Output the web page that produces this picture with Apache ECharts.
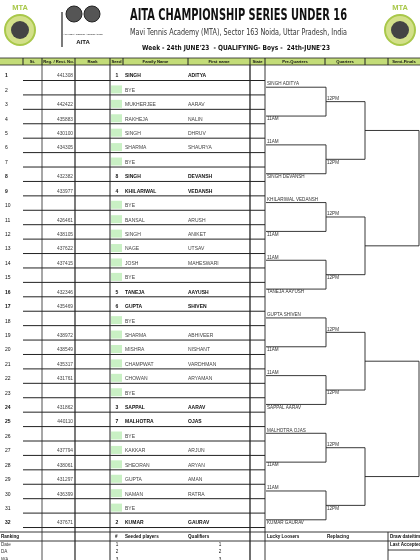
<!DOCTYPE html>
<html><head><meta charset="utf-8">
<script src="https://cdn.jsdelivr.net/npm/echarts@6/dist/echarts.min.js"></script>
<style>html,body{margin:0;padding:0;background:#fff}#c{width:420px;height:560px}</style>
</head><body><div id="c"></div>
<script>
const rows = Array.from({length:32},(_,i)=>i+1);
const regNos = ['441308','','442422','435883','430100','434305','','432382','433977','','426461','438105','437622','437415','','432346','435469','','438972','438549','435317','431761','','431862','440110','','437794','438061','431297','436399','','437671'];
const seeds = ['1','','','','','','','8','4','','','','','','','5','6','','','','','','','3','7','','','','','','','2'];
const familyNames = ['SINGH','BYE','MUKHERJEE','RAKHEJA','SINGH','SHARMA','BYE','SINGH','KHILARIWAL','BYE','BANSAL','SINGH','NAGE','JOSH','BYE','TANEJA','GUPTA','BYE','SHARMA','MISHRA','CHAMPWAT','CHOWAN','BYE','SAPPAL','MALHOTRA','BYE','KAKKAR','SHEORAN','GUPTA','NAMAN','BYE','KUMAR'];
const firstNames = ['ADITYA','','AARAV','NALIN','DHRUV','SHAURYA','','DEVANSH','VEDANSH','','ARUSH','ANIKET','UTSAV','MAHESWARI','','AAYUSH','SHIVEN','','ABHIVEER','NISHANT','VARDHMAN','ARYAMAN','','AARAV','OJAS','','ARJUN','ARYAN','AMAN','RATRA','','GAURAV'];
const preQuarterLabels = ['SINGH ADITYA','11AM','11AM','SINGH DEVANSH','KHILARIWAL VEDANSH','11AM','11AM','TANEJA AAYUSH','GUPTA SHIVEN','11AM','11AM','SAPPAL AARAV','MALHOTRA OJAS','11AM','11AM','KUMAR GAURAV'];
const quarterLabels = ['12PM','12PM','12PM','12PM','12PM','12PM','12PM','12PM'];
const headerLabels = ['St.','Reg. / Rest. No.','Rank','Seed','Family Name','First name','State','Pre-Quarters','Quarters','Semi-Finals'];
const bottomLeftLabels = ['Date','DA','WA'];
const bottomNums = ['1','2','3'];

// layout
const rowY = r => 76 + (r-1)*14.42;
const colEdges = [0,23,42,75,110,123,188,250,265,325,365,388,420];
const hdrCols = [[23,42],[42,75],[75,110],[110,123],[123,188],[188,250],[250,265],[265,325],[325,365],[388,420]];
const segs=[], texts=[], rects=[];
const seg=(x1,y1,x2,y2,w)=>segs.push([x1,y1,x2,y2,w||0.8]);
const txt=(x,y,t,o)=>texts.push([x,y,t,o||{}]);
rects.push([0,58,420,7,'#c3dc78']);
hdrCols.forEach((c,i)=>{ txt((c[0]+c[1])/2,61.5,headerLabels[i],{align:'center',bold:true,size:4.2}); });
colEdges.slice(1,-1).forEach(x=>seg(x,58,x,65,1));
seg(0,58,420,58,0.8); seg(0,65,420,65,0.8);
rows.forEach((r,i)=>{
  const y=rowY(r);
  seg(23,y+4.5,265,y+4.5,1);
  txt(5,y,String(r),{bold:!!seeds[i],size:5});
  txt(73,y,regNos[i],{align:'right',size:4.8,color:'#444'});
  if(seeds[i]) txt(117,y,seeds[i],{align:'center',bold:true,size:5});
  else rects.push([111,y-5,11,8,'#c9f0c4']);
  txt(125,y,familyNames[i],{bold:!!seeds[i],size:5,color:seeds[i]?'#111':'#444'});
  txt(188,y,firstNames[i],{bold:!!seeds[i],size:5,color:seeds[i]?'#111':'#444'});
});
[[42,0.8],[75,1.2],[110,1],[250,1.3],[265,0.9]].forEach(v=>seg(v[0],65,v[0],560,v[1]));
const pqY=[], qY=[], sY=[];
preQuarterLabels.forEach((l,k)=>{
  const y=(rowY(2*k+1)+rowY(2*k+2))/2+4; pqY.push(y);
  seg(266,y,326,y,0.9);
  txt(267,k%2===0?y-3:y+3,l,{size:4.6,color:'#333'});
});
quarterLabels.forEach((l,k)=>{
  const a=pqY[2*k], b=pqY[2*k+1]; seg(326,a,326,b,0.9);
  const y=(a+b)/2; qY.push(y); seg(326,y,365,y,0.9);
  txt(327,k%2===0?y-3:y+3,l,{size:4.6,color:'#333'});
});
for(let k=0;k<4;k++){
  const a=qY[2*k], b=qY[2*k+1]; seg(365,a,365,b,0.9);
  const y=(a+b)/2; sY.push(y); seg(365,y,419,y,0.9);
}
for(let k=0;k<2;k++) seg(419,sY[2*k],419,sY[2*k+1],0.9);
seg(0,532,420,532,0.9); seg(0,541,420,541,0.9);
seg(388,532,388,560,0.9); seg(388,550,420,550,0.9);
txt(1,536.5,'Ranking',{bold:true,size:4.6});
txt(115,536.5,'#',{bold:true,size:4.6});
txt(125,536.5,'Seeded players',{bold:true,size:4.6});
txt(188,536.5,'Qualifiers',{bold:true,size:4.6});
txt(267,536.5,'Lucky Loosers',{bold:true,size:4.6});
txt(327,536.5,'Replacing',{bold:true,size:4.6});
txt(390,536.5,'Draw date/time',{bold:true,size:4.6});
txt(390,545,'Last Accepted',{bold:true,size:4.6});
bottomLeftLabels.forEach((l,i)=>{
  const y=545+i*7.2;
  txt(1,y,l,{size:4.6,color:'#333'});
  txt(117,y,bottomNums[i],{size:4.6,align:'center'});
  txt(220,y,bottomNums[i],{size:4.6,align:'center'});
});
txt(238.5,16,'AITA CHAMPIONSHIP SERIES UNDER 16',{align:'center',bold:true,size:15,fit:217,font:'"DejaVu Sans",sans-serif'});
txt(238.5,33,'Mavi Tennis Academy (MTA), Sector 163 Noida, Uttar Pradesh, India',{align:'center',size:8.5,fit:217,color:'#333',font:'"DejaVu Sans",sans-serif'});
txt(236,48,"Week - 24th JUNE'23  - QUALIFYING- Boys -  24th-JUNE'23",{align:'center',bold:true,size:7,fit:188,font:'"DejaVu Sans",sans-serif'});
const logos=[[20,27],[400,27]];
logos.forEach(p=>{ txt(p[0],8,'MTA',{align:'center',bold:true,size:7.5,color:'#a9c84a'}); });
txt(83,42,'AITA',{align:'center',bold:true,size:6});
txt(83,34,'ALL INDIA TENNIS ASSOCIATION',{align:'center',size:2.5});
seg(62,12,62,47,1.2);

const mctx=document.createElement('canvas').getContext('2d');
const fontOf=o=>(o.bold?'bold ':'')+(o.size||5)+'px '+(o.font||'"Liberation Sans",sans-serif');
const chart=echarts.init(document.getElementById('c'),null,{renderer:'canvas'});
const ax={type:'value',show:false};
chart.setOption({
  animation:false,
  grid:{left:0,right:0,top:0,bottom:0},
  xAxis:Object.assign({min:0,max:420},ax),
  yAxis:Object.assign({min:0,max:560,inverse:true},ax),
  series:[
    {type:'custom',data:rects,renderItem:(p,api)=>{const r=rects[p.dataIndex];const a=api.coord([r[0],r[1]]),b=api.coord([r[0]+r[2],r[1]+r[3]]);
      return {type:'rect',shape:{x:a[0],y:a[1],width:b[0]-a[0],height:b[1]-a[1]},style:{fill:r[4]}};},z:1},
    {type:'custom',data:logos,renderItem:(p,api)=>{const c=api.coord(logos[p.dataIndex]);
      return {type:'group',children:[
        {type:'circle',shape:{cx:c[0],cy:c[1]+3,r:15},style:{fill:'#d3e08a',stroke:'#a9c84a',lineWidth:2}},
        {type:'circle',shape:{cx:c[0],cy:c[1]+3,r:9},style:{fill:'#444'}}]};},z:2},
    {type:'custom',data:[[74,14],[92,14]],renderItem:(p,api)=>{const c=api.coord([[74,14],[92,14]][p.dataIndex]);
      return {type:'circle',shape:{cx:c[0],cy:c[1],r:8},style:{fill:'#555',stroke:'#222',lineWidth:1}};},z:2},
    {type:'custom',data:segs,renderItem:(p,api)=>{const s=segs[p.dataIndex];const a=api.coord([s[0],s[1]]),b=api.coord([s[2],s[3]]);
      return {type:'line',shape:{x1:a[0],y1:a[1],x2:b[0],y2:b[1]},style:{stroke:'#222',lineWidth:s[4]}};},z:3},
    {type:'custom',data:texts,renderItem:(p,api)=>{const t=texts[p.dataIndex];const c=api.coord([t[0],t[1]]);const o=t[3];
      const f=fontOf(o); let sx=1;
      if(o.fit){mctx.font=f; sx=o.fit/mctx.measureText(t[2]).width;}
      return {type:'text',x:c[0],y:c[1],scaleX:sx,style:{x:0,y:0,text:t[2],textAlign:o.align||'left',textVerticalAlign:'middle',
        font:f,fill:o.color||'#111'}};},z:4}
  ]
});
</script></body></html>
